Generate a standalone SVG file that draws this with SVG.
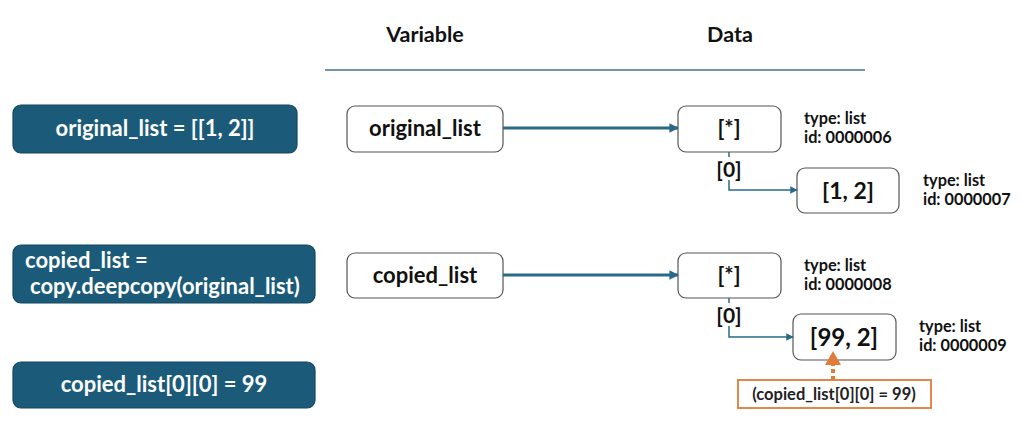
<svg xmlns="http://www.w3.org/2000/svg" width="1024" height="427" viewBox="0 0 1024 427">
<defs>
<style>
text{font-family:Lato,"Open Sans","Liberation Sans",sans-serif;font-weight:bold}
.code rect{fill:#1b5b79;stroke:#15465e;stroke-width:1.2}
.code text{fill:#fff;font-size:22px}
.box rect{fill:#fff;stroke:#555;stroke-width:1.2}
.box text{fill:#111;font-size:22px;text-anchor:middle}
.meta{fill:#111;font-size:16.3px}
.hdr{fill:#111;font-size:21.5px;text-anchor:middle}
.main{stroke:#2a6a89;stroke-width:3;fill:none}
.sub{stroke:#2a6a89;stroke-width:1.5;fill:none}
.idx{fill:#111;font-size:21px;text-anchor:middle}
</style>
<marker id="ah" viewBox="0 0 10 10" refX="9" refY="5" markerWidth="3.2" markerHeight="3.2" orient="auto" markerUnits="strokeWidth"><path d="M0,0L10,5L0,10z" fill="#2a6a89"/></marker>
<marker id="ahs" viewBox="0 0 10 10" refX="9" refY="5" markerWidth="5" markerHeight="5" orient="auto" markerUnits="strokeWidth"><path d="M0,0L10,5L0,10z" fill="#2a6a89"/></marker>
</defs>
<rect width="1024" height="427" fill="#fff"/>
<g id="header">
<text class="hdr" x="425" y="42">Variable</text>
<text class="hdr" x="730" y="42">Data</text>
<line x1="325" y1="70" x2="865" y2="70" stroke="#3f7391" stroke-width="1.5"/>
</g>
<g id="code1" class="code"><rect x="13" y="105" width="284" height="48" rx="8"/><text x="155" y="136" text-anchor="middle">original_list = [[1, 2]]</text></g>
<g id="code2" class="code"><rect x="13" y="245" width="302" height="58" rx="8"/><text x="25" y="268">copied_list =</text><text x="30" y="294">copy.deepcopy(original_list)</text></g>
<g id="code3" class="code"><rect x="13" y="362" width="302" height="46" rx="8"/><text x="164" y="392" text-anchor="middle">copied_list[0][0] = 99</text></g>
<g id="var1" class="box"><rect x="347" y="106" width="156" height="46" rx="8"/><text x="425" y="136">original_list</text></g>
<g id="var2" class="box"><rect x="347" y="253" width="156" height="45" rx="8"/><text x="425" y="283">copied_list</text></g>
<g id="data1" class="box"><rect x="678" y="106" width="103" height="46" rx="8"/><text x="729" y="136">[*]</text></g>
<g id="data2" class="box"><rect x="797" y="168" width="102" height="45" rx="8"/><text x="848" y="199" style="font-size:23px">[1, 2]</text></g>
<g id="data3" class="box"><rect x="678" y="253" width="103" height="45" rx="8"/><text x="729" y="283">[*]</text></g>
<g id="data4" class="box"><rect x="793" y="314" width="103" height="46" rx="8"/><text x="844" y="346" style="font-size:24px">[99, 2]</text></g>
<g id="meta">
<text class="meta" x="804" y="124">type: list</text><text class="meta" x="804" y="143">id: 0000006</text>
<text class="meta" x="923" y="186">type: list</text><text class="meta" x="923" y="205">id: 0000007</text>
<text class="meta" x="804" y="271">type: list</text><text class="meta" x="804" y="290">id: 0000008</text>
<text class="meta" x="919" y="332">type: list</text><text class="meta" x="919" y="351">id: 0000009</text>
</g>
<g id="note"><rect x="738" y="380" width="193" height="28" fill="#fff" stroke="#e07b39" stroke-width="1.8"/><text x="834" y="400" text-anchor="middle" style="font-size:16.5px;fill:#222">(copied_list[0][0] = 99)</text></g>
<g id="connectors">
<line class="main" x1="503" y1="128" x2="678" y2="128" marker-end="url(#ah)"/>
<line class="main" x1="503" y1="275" x2="678" y2="275" marker-end="url(#ah)"/>
<line class="sub" x1="729" y1="152" x2="729" y2="157"/>
<text class="idx" x="729" y="177">[0]</text>
<path class="sub" d="M729,180V190H797" marker-end="url(#ahs)"/>
<line class="sub" x1="729" y1="298" x2="729" y2="303"/>
<text class="idx" x="729" y="323">[0]</text>
<path class="sub" d="M729,326V337H793" marker-end="url(#ahs)"/>
<line x1="833" y1="380" x2="833" y2="364" stroke="#e07b39" stroke-width="4" stroke-dasharray="4,3"/>
<path d="M825,365L833,351L841,365z" fill="#e07b39"/>
</g>
</svg>
